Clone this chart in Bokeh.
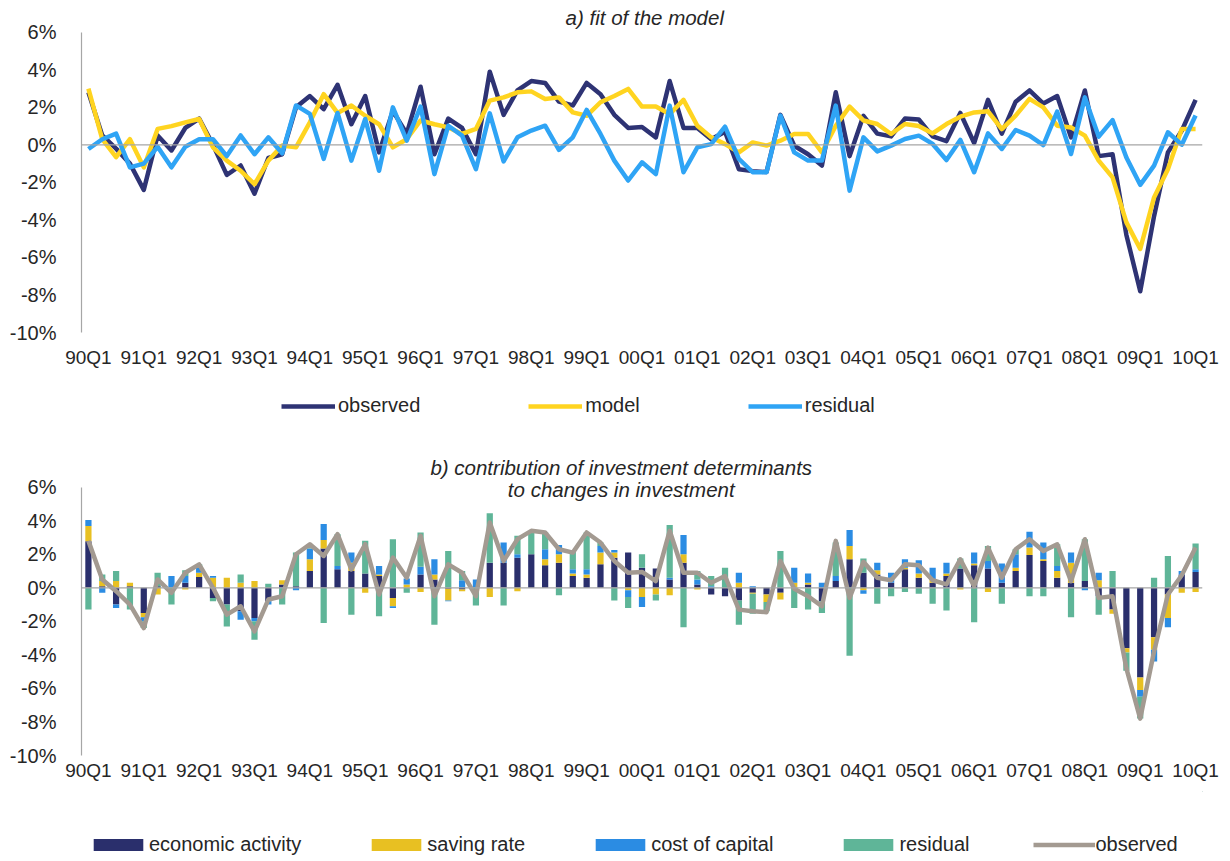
import numpy as np
from bokeh.plotting import figure
from bokeh.models import (Range1d, FixedTicker, PrintfTickFormatter, Span, Legend,
                          LegendItem, Label)
from bokeh.layouts import column
from bokeh.embed import file_html
from bokeh.resources import INLINE

# ---------------- data ----------------
tick_labels = ["90Q1", "91Q1", "92Q1", "93Q1", "94Q1", "95Q1", "96Q1", "97Q1",
               "98Q1", "99Q1", "00Q1", "01Q1", "02Q1", "03Q1", "04Q1", "05Q1",
               "06Q1", "07Q1", "08Q1", "09Q1", "10Q1"]

observed = [2.8, 0.5, -0.2, -1.0, -2.4, 0.5, -0.3, 0.9, 1.4, 0.0,
            -1.6, -1.1, -2.6, -0.7, -0.5, 2.0, 2.6, 1.9, 3.2, 1.1,
            2.6, -0.4, 1.8, 0.6, 3.1, -0.5, 1.4, 0.9, -0.5, 3.9,
            1.6, 2.9, 3.4, 3.3, 2.3, 2.1, 3.3, 2.7, 1.6, 0.9,
            0.95, 0.4, 3.4, 0.9, 0.9, 0.3, 0.7, -1.3, -1.4, -1.45,
            1.6, -0.05, -0.5, -1.1, 2.8, -0.6, 1.55, 0.6, 0.45, 1.4,
            1.35, 0.45, 0.2, 1.7, 0.1, 2.4, 0.6, 2.3, 2.9, 2.2,
            2.6, 0.4, 2.9, -0.6, -0.5, -4.8, -7.8, -3.8, -0.4, 0.75, 2.4]

model = [3.0, 0.3, -0.66, 0.3, -1.2, 0.85, 1.0, 1.2, 1.38, -0.13,
         -0.84, -1.38, -2.1, -0.84, -0.04, -0.13, 1.2, 2.7, 1.7, 2.1,
         1.55, 1.1, -0.13, 0.3, 1.3, 1.1, 0.93, 0.58, 0.85, 2.36,
         2.53, 2.8, 2.85, 2.44, 2.53, 1.73, 1.55, 2.27, 2.6, 2.98,
         2.04, 2.04, 1.64, 2.4, 1.02, 0.4, 0.04, -0.4, 0.13, -0.04,
         0.22, 0.58, 0.58, -0.4, 1.02, 2.04, 1.3, 1.11, 0.58, 1.11,
         1.0, 0.61, 1.11, 1.5, 1.73, 1.79, 0.84, 1.56, 2.45, 2.0,
         1.02, 0.93, 0.49, -0.84, -1.73, -4.13, -5.55, -2.8, -1.3, 0.84, 0.84]

residual_fit = [-0.22, 0.3, 0.6, -1.2, -1.0, -0.1, -1.2, -0.1, 0.3, 0.3,
                -0.6, 0.5, -0.5, 0.4, -0.45, 2.1, 1.65, -0.75, 1.7, -0.84,
                1.38, -1.38, 2.0, 0.22, 2.04, -1.56, 1.02, 0.49, -1.3, 1.68,
                -0.88, 0.4, 0.76, 1.02, -0.27, 0.4, 1.86, 0.58, -0.84, -1.9,
                -0.93, -1.56, 2.09, -1.46, -0.13, 0.04, 0.97, -0.75, -1.46, -1.46,
                1.56, -0.4, -0.84, -0.84, 2.09, -2.44, 0.4, -0.35, -0.04, 0.31,
                0.49, 0.05, -0.81, 0.26, -1.46, 0.61, -0.22, 0.79, 0.49, -0.01,
                1.77, -0.49, 2.53, 0.44, 1.32, -0.67, -2.13, -1.11, 0.67, 0.01, 1.56]

economic_activity = [2.78, 0.1, -1.0, 0.1, -1.5, 0.1, 0.0, 0.3, 0.65, -0.6,
                     -1.0, -1.4, -1.8, -0.8, 0.2, 0.1, 1.0, 2.35, 1.1, 1.0,
                     0.85, 0.7, -0.6, 0.0, 0.8, 0.5, -0.05, -0.1, 0.0, 1.5,
                     1.5, 1.8, 2.0, 1.35, 1.5, 0.7, 0.6, 1.4, 1.8, 2.1,
                     1.2, 1.15, 0.5, 1.5, 0.2, -0.4, -0.5, -0.75, -0.3, -0.4,
                     -0.3, 0.0, 0.2, -0.8, 0.4, 1.7, 0.9, 0.8, 0.3, 1.1,
                     0.6, 0.3, 0.7, 1.15, 1.35, 1.15, 0.3, 1.0, 1.95, 1.6,
                     0.6, 0.3, 0.4, -0.5, -1.3, -3.6, -5.35, -2.95, -0.4, 0.8, 0.95]

saving_rate = [0.9, 0.3, 0.4, 0.2, -0.25, -0.4, 0.0, -0.1, 0.25, 0.6,
               0.6, 0.3, 0.4, 0.0, 0.25, 0.0, 0.7, 0.5, 0.0, 0.5,
               -0.3, 0.1, -0.5, 0.2, -0.25, 0.3, -0.7, -0.1, 0.0, -0.55,
               0.0, -0.2, 0.0, 0.35, 0.5, 0.15, 0.2, 0.7, 0.3, -0.15,
               -0.55, -0.4, -0.45, 0.5, -0.1, 0.0, 0.0, 0.3, -0.05, -0.45,
               -0.4, 0.3, 0.1, 0.0, 0.0, 0.8, -0.15, 0.25, 0.0, 0.1,
               0.25, 0.2, 0.15, -0.1, 0.1, -0.25, 0.0, 0.2, 0.45, 0.1,
               0.4, 1.2, 0.0, 0.45, -0.25, -0.25, -0.75, -0.75, -1.4, -0.3, -0.25]

cost_of_capital = [0.36, -0.3, -0.2, 0.0, -0.25, 0.0, 0.7, 0.4, 0.35, 0.1,
                   0.0, -0.5, -0.2, -0.2, 0.0, -0.15, 0.65, 0.95, 0.2, 0.6,
                   0.0, 0.5, -0.1, 0.35, 0.45, 0.9, -0.05, 0.45, 0.5, 0.0,
                   1.2, 0.2, 0.0, 0.6, 0.55, 0.25, 0.3, 0.4, 0.15, -0.4,
                   -0.6, 0.0, 0.1, 1.15, 0.3, 0.1, 0.0, 0.6, 0.1, 0.0,
                   0.0, 0.9, 0.55, 0.3, 0.3, 0.95, -0.2, 0.45, 0.6, 0.5,
                   0.8, 0.7, 0.65, 0.0, 0.65, 0.45, 1.15, 0.8, 0.95, 1.0,
                   0.3, 0.6, -0.15, 0.45, 0.0, 0.0, -0.4, -0.7, -0.55, 0.2, 0.15]

residual_contrib = [-1.3, 0.4, 0.6, -1.3, -0.4, 0.8, -1.0, 0.35, 0.15, -0.2,
                    -1.3, 0.5, -1.1, 0.25, -1.0, 2.0, 0.25, -2.1, 1.9, -1.6,
                    1.95, -1.7, 2.9, -0.3, 2.05, -2.2, 2.2, 0.55, -1.05, 2.95,
                    -1.05, 1.1, 1.35, 1.0, -0.45, 1.1, 2.2, 0.2, -0.75, -0.65,
                    0.8, -0.35, 3.15, -2.35, 0.5, 0.6, 1.2, -1.45, -1.2, -0.55,
                    2.2, -1.2, -1.3, -0.7, 2.0, -4.05, 0.85, -0.95, -0.5, -0.25,
                    -0.35, -0.95, -1.35, 0.6, -2.05, 0.9, -0.95, 0.3, -0.5, -0.5,
                    1.3, -1.75, 2.5, -1.1, 1.0, -1.1, -1.3, 0.6, 1.9, 0.0, 1.55]

# ---------------- helpers ----------------
n = len(observed)
x = list(range(n))
tick_pos = list(range(0, n, 4))
FONT = "Liberation Sans"
TXT = "#262626"


def style(p, x_standoff):
    p.xgrid.visible = False
    p.ygrid.visible = False
    p.outline_line_color = None
    xa = p.xaxis[0]
    xa.ticker = FixedTicker(ticks=tick_pos)
    xa.major_label_overrides = {t: lab for t, lab in zip(tick_pos, tick_labels)}
    xa.axis_line_color = None
    xa.major_tick_line_color = None
    xa.minor_tick_line_color = None
    xa.major_label_standoff = x_standoff
    xa.major_label_text_font = FONT
    xa.major_label_text_font_size = "19px"
    xa.major_label_text_color = TXT
    ya = p.yaxis[0]
    ya.ticker = FixedTicker(ticks=list(range(-10, 7, 2)))
    ya.formatter = PrintfTickFormatter(format="%d%%")
    ya.bounds = (-10, 6)
    ya.axis_line_color = "#A6A6A6"
    ya.axis_line_width = 1.2
    ya.major_tick_line_color = None
    ya.minor_tick_line_color = None
    ya.major_label_standoff = 19
    ya.major_label_text_font = FONT
    ya.major_label_text_font_size = "20px"
    ya.major_label_text_color = TXT
    p.add_layout(Span(location=0, dimension="width", line_color="#A6A6A6",
                      line_width=1.2))


def legend_fig(height):
    f = figure(frame_width=1121, frame_height=height,
               x_range=Range1d(0, 1), y_range=Range1d(0, 1),
               x_axis_type=None, y_axis_type=None,
               min_border_left=81, min_border_right=20, min_border_top=0,
               min_border_bottom=0, toolbar_location=None, output_backend="svg")
    f.xgrid.visible = False
    f.ygrid.visible = False
    f.outline_line_color = None
    return f


# ---------------- panel a ----------------
p1 = figure(frame_width=1121, frame_height=322,
            x_range=Range1d(-0.5, 80.5), y_range=Range1d(-10, 7.16),
            min_border_left=81, min_border_right=20, min_border_top=10,
            min_border_bottom=44, toolbar_location=None, output_backend="svg")
style(p1, 8)

p1.line(x, observed, line_color="#2E3374", line_width=4.5, line_join="round")
p1.line(x, model, line_color="#FFD420", line_width=4.5, line_join="round")
p1.line(x, residual_fit, line_color="#2FA4F5", line_width=4.5, line_join="round")

p1.add_layout(Label(x=40.2, y=6.78, text="a) fit of the model", text_font=FONT,
                    text_font_style="italic", text_font_size="20.5px", text_color=TXT,
                    text_align="center", text_baseline="middle"))

# legend strip for panel a (swatch renderers sit outside the visible range)
l1 = legend_fig(64)
la = l1.line([5, 6], [5, 6], line_color="#2E3374", line_width=4.5)
lb = l1.line([5, 6], [5, 6], line_color="#FFD420", line_width=4.5)
lc = l1.line([5, 6], [5, 6], line_color="#2FA4F5", line_width=4.5)
leg1 = Legend(items=[LegendItem(label="observed", renderers=[la]),
                     LegendItem(label="model", renderers=[lb]),
                     LegendItem(label="residual", renderers=[lc])],
              orientation="horizontal", location=(200, 23), margin=0, padding=0,
              spacing=108, glyph_width=54, glyph_height=20, label_standoff=3,
              label_height=20, label_text_font=FONT, label_text_font_size="20px",
              label_text_color=TXT, border_line_color=None, background_fill_alpha=0)
l1.add_layout(leg1)

# ---------------- panel b ----------------
p2 = figure(frame_width=1121, frame_height=303,
            x_range=Range1d(-0.5, 80.5), y_range=Range1d(-10, 8.07),
            min_border_left=81, min_border_right=20, min_border_top=12,
            min_border_bottom=36, toolbar_location=None, output_backend="svg")
style(p2, -2)

components = [economic_activity, saving_rate, cost_of_capital, residual_contrib]
colors = ["#2A2F6C", "#E8C022", "#2B8CE3", "#5FB598"]
names = ["economic activity", "saving rate", "cost of capital", "residual"]
pos = np.zeros(n)
neg = np.zeros(n)
for comp, col in zip(components, colors):
    v = np.array(comp, dtype=float)
    bottom = np.where(v >= 0, pos, neg)
    top = bottom + v
    pos = np.where(v >= 0, top, pos)
    neg = np.where(v < 0, top, neg)
    p2.vbar(x=x, bottom=bottom, top=top, width=0.45, fill_color=col, line_color=None)

p2.line(x, observed, line_color="#A39A91", line_width=4.5, line_join="round")

p2.add_layout(Label(x=38.5, y=7.17, text="b) contribution of investment determinants",
                    text_font=FONT, text_font_style="italic", text_font_size="20.5px",
                    text_color=TXT, text_align="center", text_baseline="middle"))
p2.add_layout(Label(x=38.5, y=5.86, text="to changes in investment",
                    text_font=FONT, text_font_style="italic", text_font_size="20.5px",
                    text_color=TXT, text_align="center", text_baseline="middle"))

# legend strip for panel b (swatch renderers sit outside the visible range)
l2 = legend_fig(66)
items2 = []
for nm, col in zip(names, colors):
    rr = l2.vbar(x=[5], bottom=[5], top=[6], width=0.5, fill_color=col, line_color=None)
    items2.append(LegendItem(label=nm, renderers=[rr]))
ro = l2.line([5, 6], [5, 6], line_color="#A39A91", line_width=4.5)
items2.append(LegendItem(label="observed", renderers=[ro]))
leg2 = Legend(items=items2, orientation="horizontal", location=(6, 1), margin=0,
              padding=0, spacing=64, glyph_width=62, glyph_height=15, label_standoff=0,
              label_height=20, label_text_font=FONT, label_text_font_size="20px",
              label_text_color=TXT, border_line_color=None, background_fill_alpha=0)
l2.add_layout(leg2)

layout = column(p1, l1, p2, l2, spacing=0)
open("out.html", "w").write(file_html(layout, INLINE))
